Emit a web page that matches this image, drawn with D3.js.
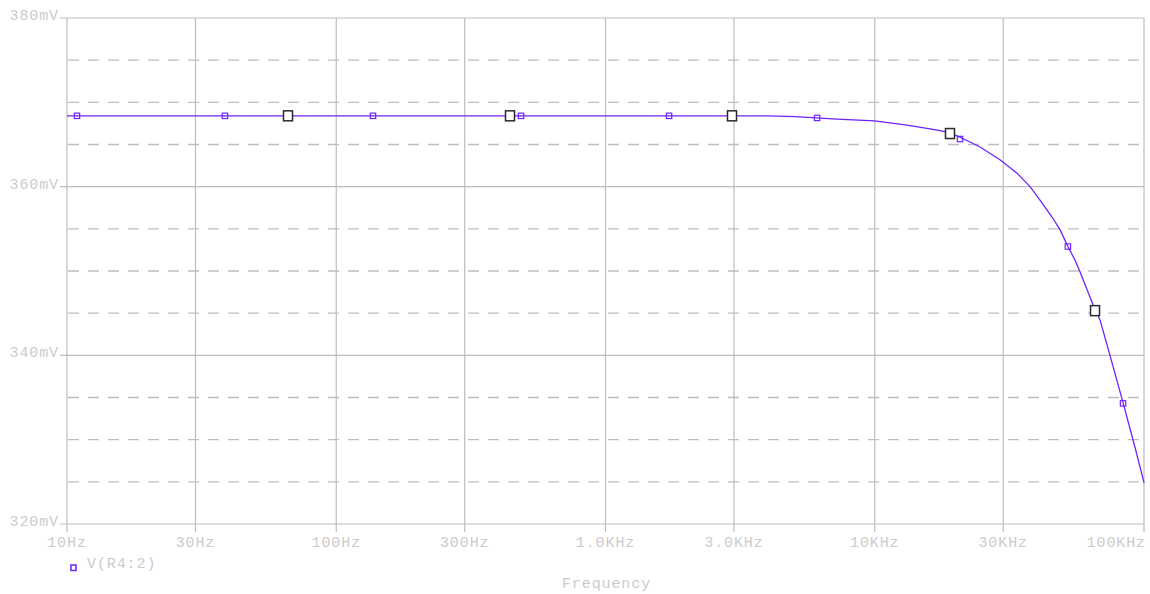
<!DOCTYPE html>
<html>
<head>
<meta charset="utf-8">
<script src="https://cdn.jsdelivr.net/npm/d3@7"></script>
<style>
  body { margin: 0; background: #fff; }
  svg text { font-family: "Liberation Mono", "DejaVu Sans Mono", monospace; font-size: 15px; fill: #cbcbcb; letter-spacing: 0.9px; }
</style>
</head>
<body>
<div id="plot"></div>
<script>
// frequency sweep (Hz) and V(R4:2) in mV
var freqs = [10, 100, 1000, 4000, 5056, 7241, 10000, 13180, 16460, 19030, 22580, 24600, 29190,
             33760, 37730, 41090, 45530, 48750, 52160, 55410, 57850, 64660, 68640, 74760, 83600, 92590, 100000];
var volts = [368.4, 368.4, 368.4, 368.4, 368.3, 368.0, 367.8, 367.3, 366.8, 366.4, 365.3, 364.7, 363.2,
             361.6, 360.0, 358.4, 356.4, 354.9, 352.9, 351.3, 349.9, 346.0, 344.2, 340.0, 334.4, 329.1, 324.9];

// small trace markers
var markFreqs = [10.89, 38.6, 136.9, 485.6, 1722, 6107, 20740, 52160, 83600];
var markVolts = [368.4, 368.4, 368.4, 368.4, 368.4, 368.15, 365.65, 352.9, 334.3];

// big cursor-style squares
var cursorFreqs = [66.2, 441.9, 2950, 19030, 65780];
var cursorVolts = [368.4, 368.4, 368.4, 366.3, 345.3];

var xTicks = [10, 30, 100, 300, 1000, 3000, 10000, 30000, 100000];
var xTickLabels = ["10Hz", "30Hz", "100Hz", "300Hz", "1.0KHz", "3.0KHz", "10KHz", "30KHz", "100KHz"];
var yMajor = [320, 340, 360, 380];
var yMajorLabels = ["320mV", "340mV", "360mV", "380mV"];
var yMinor = [325, 330, 335, 345, 350, 355, 365, 370, 375];

var W = 1150, H = 594;
var margin = {top: 18, right: 6, bottom: 70, left: 67};
var width = W - margin.left - margin.right,
    height = H - margin.top - margin.bottom;

var svg = d3.select("#plot").append("svg")
    .attr("width", W).attr("height", H);
var g = svg.append("g")
    .attr("transform", "translate(" + margin.left + "," + margin.top + ")");

var x = d3.scaleLog().domain([10, 100000]).range([0, width]);
var y = d3.scaleLinear().domain([320, 380]).range([height, 0]);

var gridCol = "#bdbdbd";

// minor dashed grid
g.selectAll(".minor").data(yMinor).enter().append("line")
    .attr("x1", 1).attr("x2", width)
    .attr("y1", d => y(d)).attr("y2", d => y(d))
    .attr("stroke", "#bebebe").attr("stroke-width", 1.3)
    .attr("stroke-dasharray", "11,9");

// major horizontal lines with little ticks on the left
g.selectAll(".major").data(yMajor).enter().append("line")
    .attr("x1", -7).attr("x2", width)
    .attr("y1", d => y(d)).attr("y2", d => y(d))
    .attr("stroke", gridCol).attr("stroke-width", 1.2);

g.selectAll(".ylab").data(yMajor).enter().append("text")
    .attr("x", -8).attr("y", d => y(d) + 2)
    .attr("text-anchor", "end")
    .text((d, i) => yMajorLabels[i]);

// vertical grid, extending past the bottom as ticks
g.selectAll(".vgrid").data(xTicks).enter().append("line")
    .attr("x1", d => x(d)).attr("x2", d => x(d))
    .attr("y1", 0).attr("y2", height + 8)
    .attr("stroke", gridCol).attr("stroke-width", 1.2);

g.selectAll(".xlab").data(xTicks).enter().append("text")
    .attr("x", (d, i) => i == xTicks.length - 1 ? width + 2 : x(d))
    .attr("y", height + 23)
    .attr("text-anchor", (d, i) => i == xTicks.length - 1 ? "end" : "middle")
    .text((d, i) => xTickLabels[i]);

g.append("text")
    .attr("x", width / 2 + 1).attr("y", height + 64)
    .attr("text-anchor", "middle")
    .text("Frequency");

var traceCol = "#6f22ff";

// trace
var pts = freqs.map((f, i) => [f, volts[i]]);
var line = d3.line().x(d => x(d[0])).y(d => y(d[1]));
g.append("path")
    .datum(pts)
    .attr("fill", "none")
    .attr("stroke", traceCol)
    .attr("stroke-width", 1.3)
    .attr("d", line);

// small markers
g.selectAll(".mk").data(markFreqs).enter().append("rect")
    .attr("x", d => x(d) - 2.7)
    .attr("y", (d, i) => y(markVolts[i]) - 2.7)
    .attr("width", 5.4).attr("height", 5.4)
    .attr("fill", "none")
    .attr("stroke", traceCol).attr("stroke-width", 1.2);

// big squares
g.selectAll(".cur").data(cursorFreqs).enter().append("rect")
    .attr("x", d => x(d) - 4.5)
    .attr("y", (d, i) => y(cursorVolts[i]) - 5)
    .attr("width", 9).attr("height", 10)
    .attr("fill", "#fff")
    .attr("stroke", "#2a2a2a").attr("stroke-width", 1.5);

// legend
g.append("rect")
    .attr("x", 4).attr("y", height + 41)
    .attr("width", 5).attr("height", 5.5)
    .attr("fill", "none")
    .attr("stroke", traceCol).attr("stroke-width", 1.5);
g.append("text")
    .attr("x", 20).attr("y", height + 44)
    .text("V(R4:2)");
</script>
</body>
</html>
